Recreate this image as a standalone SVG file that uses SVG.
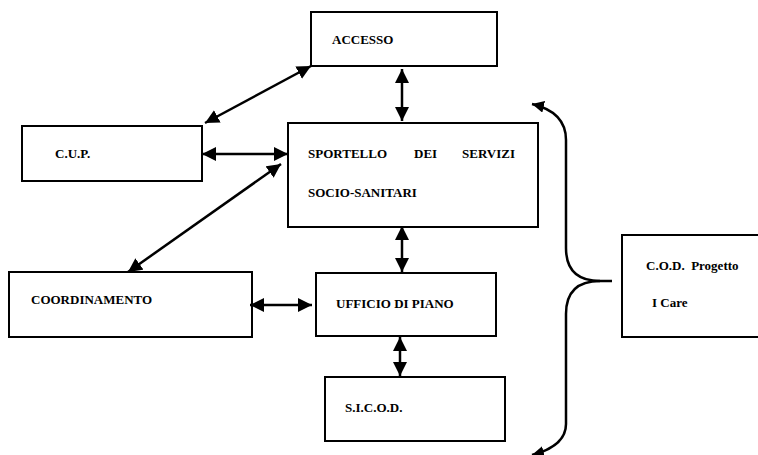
<svg xmlns="http://www.w3.org/2000/svg" width="758" height="455" viewBox="0 0 758 455">
<style>
.box{fill:#fff;stroke:#000;stroke-width:2}
.lbl{font-weight:bold;font-size:13px;fill:#000}
.con{fill:none;stroke:#000;stroke-width:2.5}
</style>
<defs>
<marker id="ah" viewBox="0 0 14 14" refX="14" refY="7" markerWidth="14" markerHeight="14" markerUnits="userSpaceOnUse" orient="auto-start-reverse">
<path d="M0,0 L14,7 L0,14 z" fill="#000"/>
</marker>
<marker id="ahs" viewBox="0 0 12 12" refX="12" refY="6" markerWidth="12" markerHeight="12" markerUnits="userSpaceOnUse" orient="auto-start-reverse">
<path d="M0,0 L12,6 L0,12 z" fill="#000"/>
</marker>
</defs>
<rect width="758" height="455" fill="#fff"/>
<g font-family="'Liberation Serif', 'DejaVu Serif', serif">
<g id="accesso"><rect class="box" x="311" y="12" width="186" height="54"/><text class="lbl" x="332" y="44">ACCESSO</text></g>
<g id="cup"><rect class="box" x="22" y="126" width="180" height="55"/><text class="lbl" x="55" y="158">C.U.P.</text></g>
<g id="sportello"><rect class="box" x="288" y="123" width="250" height="104"/><text class="lbl" y="158"><tspan x="308">SPORTELLO</tspan><tspan x="414">DEI</tspan><tspan x="462">SERVIZI</tspan></text><text class="lbl" x="308" y="197">SOCIO-SANITARI</text></g>
<g id="coordinamento"><rect class="box" x="9" y="272" width="243" height="65"/><text class="lbl" x="31" y="304">COORDINAMENTO</text></g>
<g id="ufficio"><rect class="box" x="316" y="273" width="180" height="63"/><text class="lbl" x="336" y="308">UFFICIO DI PIANO</text></g>
<g id="sicod"><rect class="box" x="325" y="377" width="180" height="64"/><text class="lbl" x="345" y="412">S.I.C.O.D.</text></g>
<g id="cod"><rect class="box" x="622" y="235" width="140" height="102"/><text class="lbl" x="646" y="270" xml:space="preserve">C.O.D.  Progetto</text><text class="lbl" x="652" y="307">I Care</text></g>
</g>
<g id="connectors">
<line class="con" x1="205" y1="123" x2="311" y2="66" marker-start="url(#ah)" marker-end="url(#ah)"/>
<line class="con" x1="402" y1="69" x2="402" y2="121" marker-start="url(#ah)" marker-end="url(#ah)"/>
<line class="con" x1="202" y1="154" x2="288" y2="154" marker-start="url(#ah)" marker-end="url(#ah)"/>
<line class="con" x1="128" y1="272" x2="281" y2="164" marker-start="url(#ah)" marker-end="url(#ah)"/>
<line class="con" x1="402" y1="226" x2="402" y2="272" marker-start="url(#ah)" marker-end="url(#ah)"/>
<line class="con" x1="250" y1="305" x2="312" y2="305" marker-start="url(#ah)" marker-end="url(#ah)"/>
<line class="con" x1="400" y1="337" x2="400" y2="376" marker-start="url(#ah)" marker-end="url(#ah)"/>
<path class="con" d="M612,281 L600,281 Q566,281 566,248 L566,140 Q566,112 532,104" marker-end="url(#ahs)"/>
<path class="con" d="M600,281 Q566,281 566,314 L566,424 Q566,446 532,455" marker-end="url(#ahs)"/>
</g>
</svg>
